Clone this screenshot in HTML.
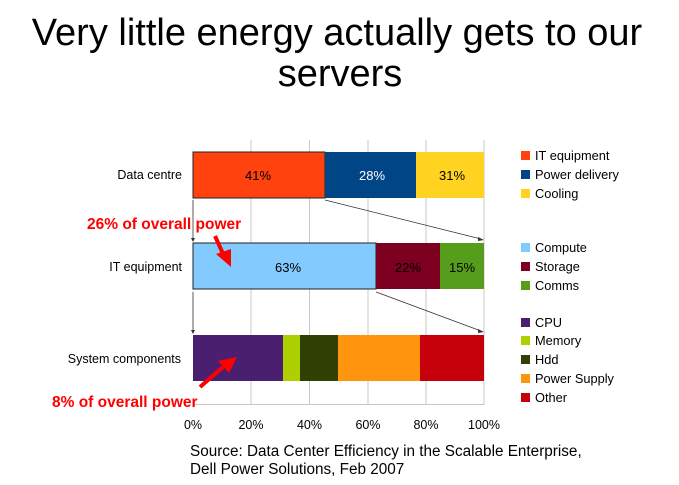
<!DOCTYPE html>
<html><head><style>
html,body{margin:0;padding:0;background:#fff;}
</style></head><body>
<svg width="679" height="480" xmlns="http://www.w3.org/2000/svg" font-family="Liberation Sans, DejaVu Sans, sans-serif">
<rect width="679" height="480" fill="#fff"/>
<text x="337" y="45" font-size="38" text-anchor="middle">Very little energy actually gets to our</text>
<text x="340" y="86" font-size="38" text-anchor="middle">servers</text>
<g stroke="#c8c8c8" stroke-width="1">
<line x1="251" y1="140" x2="251" y2="405"/><line x1="309.5" y1="140" x2="309.5" y2="405"/>
<line x1="368" y1="140" x2="368" y2="405"/><line x1="426" y1="140" x2="426" y2="405"/>
<line x1="484" y1="140" x2="484" y2="405"/><line x1="193" y1="404.5" x2="484" y2="404.5"/>
</g>
<rect x="193" y="152" width="132" height="46" fill="#ff420e" stroke="#222" stroke-width="1"/>
<rect x="325" y="152" width="91" height="46" fill="#004586"/>
<rect x="416" y="152" width="68" height="46" fill="#ffd320"/>
<rect x="193" y="243" width="183" height="46" fill="#83caff" stroke="#222" stroke-width="1"/>
<rect x="376" y="243" width="64" height="46" fill="#7e0021"/>
<rect x="440" y="243" width="44" height="46" fill="#579d1c"/>
<rect x="193" y="335" width="90" height="46" fill="#4b1f6f"/>
<rect x="283" y="335" width="17" height="46" fill="#aecf00"/>
<rect x="300" y="335" width="38" height="46" fill="#314004"/>
<rect x="338" y="335" width="82" height="46" fill="#ff950e"/>
<rect x="420" y="335" width="64" height="46" fill="#c5000b"/>
<g font-size="13" text-anchor="middle">
<text x="258" y="180">41%</text><text x="372" y="180" fill="#fff">28%</text><text x="452" y="180">31%</text>
<text x="288" y="272">63%</text><text x="408" y="272">22%</text><text x="462" y="272">15%</text>
</g>
<g font-size="12.5" text-anchor="end">
<text x="182" y="179">Data centre</text><text x="182" y="271">IT equipment</text><text x="181" y="363">System components</text>
</g>
<g stroke="#333" stroke-width="0.8" fill="none">
<line x1="193" y1="200" x2="193" y2="239"/><line x1="193" y1="292" x2="193" y2="331"/>
<line x1="325" y1="200" x2="481" y2="239"/><line x1="376" y1="292" x2="481" y2="331"/>
</g>
<g fill="#333"><path d="M191,238 L195,238 L193,242Z"/><path d="M191,330 L195,330 L193,334Z"/><path d="M478,237 L484,240 L478,241Z"/><path d="M478,329 L484,332 L478,333Z"/></g>
<g fill="#ff0000" font-weight="bold" font-size="15.5">
<text x="87" y="229">26% of overall power</text>
<text x="52" y="407">8% of overall power</text>
</g>
<g stroke="#ff0000" stroke-width="4" fill="#ff0000">
<line x1="215" y1="236" x2="224" y2="256"/>
<line x1="200" y1="387" x2="223" y2="367"/>
</g>
<path d="M216,254 L231,267 L231,249Z" fill="#ff0000"/>
<path d="M218,361 L237,357 L229,373Z" fill="#ff0000"/>
<g font-size="12.5" text-anchor="middle">
<text x="193" y="429">0%</text><text x="251" y="429">20%</text><text x="309.5" y="429">40%</text>
<text x="368" y="429">60%</text><text x="426" y="429">80%</text><text x="484" y="429">100%</text>
</g>
<g font-size="12.8">
<rect x="521" y="151" width="9" height="9" fill="#ff420e"/><text x="535" y="160">IT equipment</text>
<rect x="521" y="170" width="9" height="9" fill="#004586"/><text x="535" y="179">Power delivery</text>
<rect x="521" y="189" width="9" height="9" fill="#ffd320"/><text x="535" y="198">Cooling</text>
<rect x="521" y="243" width="9" height="9" fill="#83caff"/><text x="535" y="252">Compute</text>
<rect x="521" y="262" width="9" height="9" fill="#7e0021"/><text x="535" y="271">Storage</text>
<rect x="521" y="281" width="9" height="9" fill="#579d1c"/><text x="535" y="290">Comms</text>
<rect x="521" y="318" width="9" height="9" fill="#4b1f6f"/><text x="535" y="327">CPU</text>
<rect x="521" y="336" width="9" height="9" fill="#aecf00"/><text x="535" y="345">Memory</text>
<rect x="521" y="355" width="9" height="9" fill="#314004"/><text x="535" y="364">Hdd</text>
<rect x="521" y="374" width="9" height="9" fill="#ff950e"/><text x="535" y="383">Power Supply</text>
<rect x="521" y="393" width="9" height="9" fill="#c5000b"/><text x="535" y="402">Other</text>
</g>
<g font-size="15.3">
<text x="190" y="456">Source: Data Center Efficiency in the Scalable Enterprise,</text>
<text x="190" y="474">Dell Power Solutions, Feb 2007</text>
</g>
</svg>
</body></html>
